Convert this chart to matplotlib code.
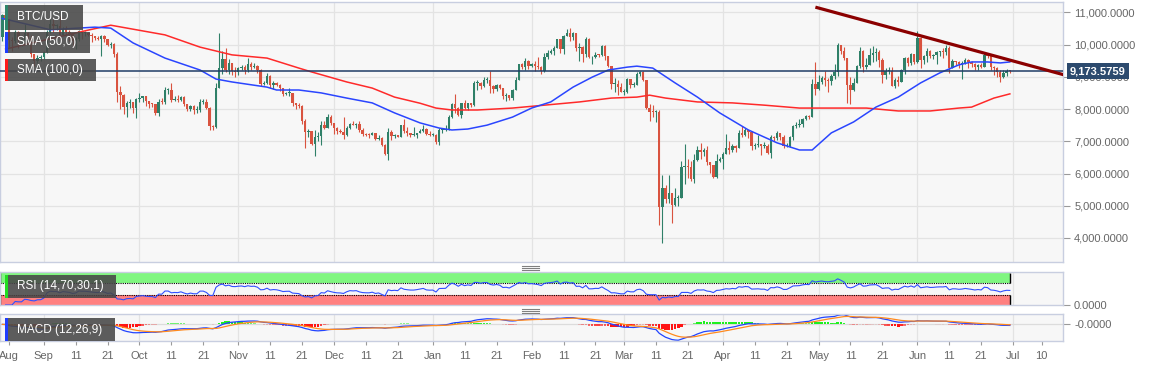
import numpy as np
import pandas as pd
import matplotlib
matplotlib.use('Agg')
import matplotlib.pyplot as plt
import matplotlib.dates as mdates
from matplotlib.colors import to_rgba
from matplotlib.patches import Rectangle
from matplotlib.lines import Line2D
from matplotlib.transforms import blended_transform_factory

plt.rcParams['font.family'] = ['Liberation Sans', 'DejaVu Sans']

W, H = 1153, 367

# daily BTC/USD candles, 2019-08-19 .. 2020-06-30 (open = previous close)
first_open = 10230
close = [
    10920, 10760, 10130, 10110, 10400, 10140, 10140, 10370, 10190, 9720, 9480, 9590, 9600,  # Aug
    9760, 10390, 10630, 10570, 10570, 10310, 10480, 10400, 10320, 10100, 10160, 10410, 10360, 10360, 10300,
    10250, 10190, 10160, 10280, 10170, 9990, 10030, 9700, 8530, 8430, 8060, 8190, 8210, 8040, 8300,  # Sep
    8340, 8390, 8240, 8160, 8150, 7870, 8220, 8210, 8590, 8590, 8270, 8310, 8280, 8370, 8160, 7990,
    8080, 7960, 7960, 8230, 8230, 8030, 7470, 7430, 8660, 9260, 9550, 9220, 9430, 9180, 9150,  # Oct
    9260, 9310, 9200, 9400, 9310, 9340, 9200, 8770, 8810, 9040, 8730, 8800, 8760, 8640, 8460,
    8490, 8500, 8180, 8120, 8080, 7620, 7280, 7320, 6900, 7120, 7160, 7510, 7420, 7740, 7570,  # Nov
    7420, 7320, 7300, 7200, 7400, 7540, 7500, 7530, 7340, 7230, 7200, 7190, 7250, 7070, 7110, 6880,
    6620, 7280, 7150, 7190, 7140, 7520, 7320, 7250, 7200, 7200, 7250, 7320, 7390, 7220, 7190,  # Dec
    7200, 6970, 7340, 7350, 7360, 7760, 8160, 8040, 7820, 8190, 8030, 8180, 8110, 8810, 8820, 8720,
    8900, 8910, 8700, 8630, 8740, 8660, 8390, 8430, 8340, 8600, 8910, 9390, 9290, 9500, 9350,  # Jan
    9390, 9340, 9290, 9180, 9610, 9730, 9800, 9900, 10170, 9860, 10270, 10350, 10240, 10360, 9900,
    9930, 9700, 10180, 9600, 9610, 9690, 9670, 9970, 9650, 9320, 8780, 8790, 8670, 8530,  # Feb
    8530, 8920, 8760, 8760, 9080, 9160, 8900, 8040, 7920, 7910, 7910, 4970, 5560, 5200, 5390, 5010,
    5230, 5230, 6190, 6200, 6190, 5830, 6420, 6740, 6680, 6730, 6370, 6250, 5880, 6390, 6440,  # Mar
    6610, 6800, 6730, 6860, 6790, 7270, 7180, 7340, 7300, 6860, 6880, 6910, 6850, 6850, 6630,
    7120, 7090, 7260, 7130, 6850, 6860, 7130, 7480, 7510, 7540, 7690, 7780, 7760, 8780, 8620,  # Apr
    8830, 8970, 8900, 8880, 9030, 9150, 9990, 9810, 9590, 8760, 8600, 8820, 9320, 9790, 9310, 9380,
    9670, 9730, 9780, 9510, 9060, 9170, 9180, 8720, 8900, 8840, 9200, 9580, 9430, 9700, 9460,  # May
    10200, 9520, 9660, 9800, 9650, 9680, 9760, 9790, 9780, 9880, 9280, 9480, 9470, 9390, 9430,
    9530, 9460, 9390, 9300, 9360, 9300, 9680, 9630, 9300, 9260, 9160, 9000, 9120, 9190, 9173.5759,  # Jun
]
high = [
    10950, 10960, 10780, 10230, 10440, 10420, 10290, 10630, 10380, 10290, 9720, 9680, 9680,
    9800, 10440, 10780, 10800, 10640, 10900, 10540, 10580, 10440, 10370, 10220, 10450, 10440, 10410, 10380,
    10360, 10270, 10260, 10300, 10290, 10180, 10070, 10040, 9780, 8720, 8470, 8250, 8320, 8230, 8340,
    8500, 8400, 8400, 8240, 8180, 8170, 8300, 8340, 8690, 8640, 8800, 8410, 8440, 8400, 8410, 8170,
    8120, 8110, 8080, 8300, 8320, 8300, 8050, 7500, 8800, 10370, 9800, 9900, 9540, 9440, 9300,
    9290, 9380, 9370, 9580, 9460, 9440, 9360, 9230, 8880, 9130, 9070, 8870, 8830, 8780, 8660,
    8530, 8650, 8510, 8200, 8200, 8120, 7700, 7370, 7330, 7360, 7300, 7640, 7620, 7850, 7830,
    7570, 7430, 7390, 7750, 7480, 7570, 7620, 7560, 7640, 7400, 7260, 7260, 7290, 7270, 7180, 7130,
    6930, 7420, 7360, 7220, 7190, 7520, 7690, 7440, 7270, 7430, 7270, 7370, 7520, 7420, 7330,
    7250, 7210, 7400, 7400, 7500, 7800, 8200, 8460, 8050, 8200, 8290, 8190, 8190, 8880, 8900, 8850,
    9000, 9000, 9190, 8730, 8770, 8790, 8660, 8500, 8440, 8610, 8980, 9400, 9420, 9580, 9530,
    9440, 9480, 9600, 9320, 9750, 9840, 9870, 9950, 10180, 10160, 10300, 10470, 10500, 10400, 10370,
    10040, 9960, 10230, 10200, 9650, 9770, 9710, 9990, 9990, 9660, 9320, 8960, 8890, 8800,
    8620, 8960, 8920, 8840, 9140, 9180, 9170, 8900, 8160, 8140, 7960, 7960, 5950, 5640, 5940, 5390,
    5560, 5340, 6380, 6900, 6450, 6400, 6600, 6850, 6960, 6780, 6860, 6370, 6260, 6600, 6520,
    6680, 7230, 7000, 6930, 6890, 7360, 7460, 7420, 7360, 7320, 6940, 7200, 6910, 6970, 6920,
    7180, 7150, 7310, 7260, 7200, 6950, 7150, 7520, 7600, 7700, 7710, 7800, 7800, 8930, 9450,
    9060, 9020, 9190, 8950, 9100, 9390, 10060, 10000, 9920, 9580, 9000, 8970, 9380, 9930, 9840, 9580,
    9880, 9950, 9900, 9830, 9570, 9270, 9310, 9300, 8970, 9010, 9230, 9620, 9600, 9740, 9700,
    10430, 10230, 9690, 9880, 9840, 9720, 9800, 9800, 9890, 9980, 9940, 9560, 9500, 9480, 9480,
    9580, 9560, 9490, 9440, 9390, 9430, 9780, 9690, 9670, 9320, 9290, 9200, 9200, 9230, 9200,
]
low = [
    10100, 10640, 9880, 9800, 10050, 9900, 9950, 10140, 10060, 9610, 9340, 9420, 9480,
    9550, 9750, 10360, 10400, 10460, 10160, 10300, 10300, 10100, 9960, 9860, 10110, 10170, 10260, 10270,
    10080, 10140, 10140, 9640, 10090, 9960, 9900, 9610, 8230, 8000, 7850, 7740, 8020, 7880, 7710,
    8230, 8220, 8100, 8020, 8050, 7800, 7780, 8160, 8160, 8460, 8230, 8260, 8230, 8240, 8090, 7950,
    7930, 7850, 7880, 7900, 8160, 8000, 7350, 7360, 7400, 8650, 9100, 9160, 9100, 9070, 8980,
    9060, 9220, 9100, 9140, 9200, 9270, 9130, 8700, 8760, 8780, 8640, 8620, 8700, 8570, 8400,
    8440, 8400, 8090, 8000, 8040, 7540, 6800, 7120, 6880, 6530, 7010, 6870, 7380, 7410, 7500,
    7230, 7230, 7250, 7080, 7170, 7370, 7490, 7420, 7300, 7170, 7150, 7100, 7200, 7050, 7050, 6850,
    6560, 6430, 7050, 7100, 7120, 7130, 7270, 7160, 7130, 7160, 7100, 7250, 7300, 7190, 7150,
    7170, 6930, 6870, 7270, 7320, 7350, 7720, 7870, 7770, 7720, 8000, 7980, 8060, 8100, 8580, 8610,
    8690, 8810, 8510, 8510, 8560, 8610, 8300, 8250, 8280, 8290, 8580, 8890, 9240, 9220, 9240,
    9310, 9180, 9230, 9100, 9160, 9550, 9700, 9690, 9880, 9730, 9710, 10250, 10100, 10140, 9810,
    9500, 9450, 9620, 9590, 9400, 9570, 9600, 9660, 9520, 9300, 8620, 8530, 8450, 8520,
    8430, 8510, 8660, 8690, 8750, 9010, 8880, 8000, 7640, 7760, 7600, 4410, 3850, 5090, 5100, 4450,
    5000, 5000, 5240, 5670, 5860, 5770, 5700, 6380, 6460, 6530, 6270, 6030, 5870, 5860, 6350,
    6150, 6600, 6620, 6670, 6670, 6780, 7120, 7150, 7110, 6740, 6770, 6810, 6570, 6780, 6610,
    6470, 7000, 7050, 7050, 6780, 6810, 6830, 7040, 7420, 7450, 7450, 7650, 7700, 7740, 8420,
    8600, 8780, 8720, 8530, 8760, 8920, 9020, 9700, 9520, 8200, 8150, 8550, 8800, 9260, 9150, 9240,
    9360, 9450, 9480, 9300, 8800, 8940, 9090, 8710, 8640, 8700, 8830, 9100, 9330, 9370, 9400,
    9420, 9270, 9390, 9470, 9590, 9540, 9400, 9640, 9580, 9690, 9110, 9260, 9380, 9280, 8930,
    9390, 9260, 9300, 9210, 9200, 9280, 9290, 9580, 9200, 9050, 9000, 8850, 8970, 9020, 9120,
]

# moving averages
sma50_dates = ['2019-08-19', '2019-09-03', '2019-09-17', '2019-09-22', '2019-09-29', '2019-10-09',
               '2019-10-20', '2019-10-25', '2019-10-30', '2019-11-10', '2019-11-13', '2019-11-20',
               '2019-11-27', '2019-12-05', '2019-12-13', '2019-12-20', '2019-12-28', '2020-01-03',
               '2020-01-07', '2020-01-12', '2020-01-18', '2020-01-26', '2020-02-01', '2020-02-07',
               '2020-02-14', '2020-02-20', '2020-02-25', '2020-03-02', '2020-03-05', '2020-03-10',
               '2020-03-17', '2020-03-24', '2020-03-31', '2020-04-09', '2020-04-18', '2020-04-25',
               '2020-04-29', '2020-05-05', '2020-05-12', '2020-05-19', '2020-05-26', '2020-06-02',
               '2020-06-08', '2020-06-14', '2020-06-18', '2020-06-23', '2020-06-27', '2020-06-30']
sma50_vals = [10810, 10460, 10540, 10510, 10050, 9580, 9210, 8930, 8840, 8680, 8590, 8590,
              8500, 8340, 8190, 7880, 7570, 7410, 7350, 7380, 7500, 7750, 8030, 8220,
              8680, 8990, 9210, 9300, 9330, 9270, 8810, 8370, 7880, 7350, 6950, 6730,
              6730, 7260, 7600, 8060, 8370, 8810, 9120, 9370, 9460, 9460, 9430, 9460]

sma100_dates = ['2019-08-20', '2019-09-15', '2019-09-22', '2019-10-09', '2019-10-20', '2019-10-30',
                '2019-11-10', '2019-11-20', '2019-11-24', '2019-12-05', '2019-12-13', '2019-12-20',
                '2019-12-28', '2020-01-02', '2020-01-07', '2020-01-15', '2020-01-26', '2020-02-05',
                '2020-02-16', '2020-02-26', '2020-03-05', '2020-03-09', '2020-03-14', '2020-03-24',
                '2020-04-04', '2020-04-14', '2020-04-25', '2020-05-05', '2020-05-16', '2020-05-26',
                '2020-06-05', '2020-06-14', '2020-06-18', '2020-06-25', '2020-06-30']
sma100_vals = [9860, 10450, 10600, 10300, 9920, 9680, 9580, 9270, 9150, 8840, 8650, 8370,
               8180, 8030, 7970, 7970, 8030, 8120, 8220, 8340, 8370, 8430, 8340, 8220,
               8190, 8120, 8030, 8030, 8030, 7940, 7940, 8030, 8060, 8340, 8470]

# descending trendline drawn on the chart
trend_dates = ['2020-04-30', '2020-07-17']
trend_vals = [11160, 9060]

price_ticks = [4000, 5000, 6000, 7000, 8000, 9000, 10000, 11000]

xtick_dates = ['2019-08-21',
               '2019-09-01', '2019-09-11', '2019-09-21', '2019-10-01', '2019-10-11', '2019-10-21',
               '2019-11-01', '2019-11-11', '2019-11-21', '2019-12-01', '2019-12-11', '2019-12-21',
               '2020-01-01', '2020-01-11', '2020-01-21', '2020-02-01', '2020-02-11', '2020-02-21',
               '2020-03-01', '2020-03-11', '2020-03-21', '2020-04-01', '2020-04-11', '2020-04-21',
               '2020-05-01', '2020-05-11', '2020-05-21', '2020-06-01', '2020-06-11', '2020-06-21',
               '2020-07-01', '2020-07-10']
xtick_labels = ['Aug', 'Sep', '11', '21', 'Oct', '11', '21', 'Nov', '11', '21', 'Dec', '11', '21',
                'Jan', '11', '21', 'Feb', '11', '21', 'Mar', '11', '21', 'Apr', '11', '21',
                'May', '11', '21', 'Jun', '11', '21', 'Jul', '10']

# ---- prepare candles
dates = pd.date_range('2019-08-19', periods=len(close), freq='D')
c = np.array(close, dtype=float)
o = np.concatenate([[first_open], c[:-1]])
hi = np.maximum(np.array(high, dtype=float), np.maximum(o, c))
lo = np.minimum(np.array(low, dtype=float), np.minimum(o, c))
xd = mdates.date2num(dates)
up_col, dn_col = '#2f8068', '#d9533f'
cols = np.where(c >= o, up_col, dn_col)
last_price = c[-1]

# ---- indicators
s = pd.Series(c, index=dates)
delta = s.diff()
gain = delta.clip(lower=0).ewm(alpha=1 / 14, adjust=False).mean()
loss = (-delta.clip(upper=0)).ewm(alpha=1 / 14, adjust=False).mean()
rsi = 100 - 100 / (1 + gain / loss)
ema12 = s.ewm(span=12, adjust=False).mean()
ema26 = s.ewm(span=26, adjust=False).mean()
macd = ema12 - ema26
signal = macd.ewm(span=9, adjust=False).mean()
hist = macd - signal

# ---- figure
fig = plt.figure(figsize=(W / 100, H / 100), dpi=100)
fig.patch.set_facecolor('white')


def panel(top, bottom):
    return fig.add_axes([0.0, 1 - bottom / H, 1063 / W, (bottom - top) / H])


ax = panel(2, 262)
ax_rsi = panel(272, 305)
ax_macd = panel(314, 341)

xmin = mdates.date2num(pd.Timestamp('2019-08-18 06:00'))
xmax = mdates.date2num(pd.Timestamp('2020-07-16 16:00'))
month_starts = mdates.date2num(pd.date_range('2019-09-01', '2020-07-01', freq='MS'))

for a in (ax, ax_rsi, ax_macd):
    a.set_facecolor('#f7f7f7')
    for sp in a.spines.values():
        sp.set_color('#c8cee0')
        sp.set_linewidth(1.0)
    a.set_xlim(xmin, xmax)
    for m in month_starts:
        a.axvline(m, color='#e3e3e3', lw=0.9, zorder=0)
    a.yaxis.tick_right()
    a.tick_params(axis='y', right=True, left=False, labelright=True, labelleft=False,
                  length=5, width=0.8, color='#9a9a9a', labelcolor='#666666',
                  labelsize=8, pad=3)
    a.tick_params(axis='x', bottom=False, labelbottom=False)

# main price panel
for v in price_ticks:
    ax.axhline(v, color='#e3e3e3', lw=0.9, zorder=0)
ax.vlines(xd, lo, hi, colors=cols, lw=0.8, zorder=2)
body_lo = np.minimum(o, c)
body_h = np.maximum(np.abs(c - o), 28)
ax.bar(xd, body_h, bottom=body_lo, width=0.74, color=cols, lw=0, zorder=3)
ax.plot(pd.to_datetime(sma100_dates), sma100_vals, color='#ff2a2a', lw=1.1, zorder=4)
ax.plot(pd.to_datetime(sma50_dates), sma50_vals, color='#2a45ff', lw=1.1, zorder=4)
ax.axhline(last_price, color='#1f3c66', lw=1.1, zorder=5)
ax.plot(pd.to_datetime(trend_dates), trend_vals, color='#8b0000', lw=2.3, zorder=6,
        solid_capstyle='butt')
ax.set_ylim(3255, 11320)
ax.set_yticks(price_ticks)
ax.set_yticklabels([f'{v:,.4f}' for v in price_ticks])
ax.set_xlim(xmin, xmax)
tr = blended_transform_factory(ax.transAxes, ax.transData)
ax.text(1.0066, last_price, f'{last_price:,.4f}', transform=tr, color='white',
        fontsize=8, fontweight='bold', va='center', ha='left', zorder=10, clip_on=False,
        bbox=dict(boxstyle='square,pad=0.28', fc='#2c4a6e', ec='none'))

# RSI panel
x0, x1 = xd[0] - 0.6, xd[-1]
ax_rsi.fill_between([x0, x1], 70, 100, color='#80f680', lw=0, zorder=1)
ax_rsi.fill_between([x0, x1], 0, 30, color='#ff8080', lw=0, zorder=1)
ax_rsi.hlines([70, 30], x0, x1, colors='black', linestyles=(0, (1, 1)), lw=0.8, zorder=2)
ax_rsi.vlines([x0, x1], 70, 100, colors='black', lw=1.0, zorder=2)
ax_rsi.vlines([x0, x1], 0, 30, colors='black', lw=1.0, zorder=2)
ax_rsi.plot(dates, rsi, color='#2f4fff', lw=0.8, zorder=3)
ax_rsi.set_ylim(0, 103)
ax_rsi.set_yticks([0])
ax_rsi.set_yticklabels(['0.0000'])
ax_rsi.set_xlim(xmin, xmax)

# MACD panel: histogram fades out where it is small
ax_macd.axhline(0, color='#dcdcdc', lw=0.9, zorder=0)
hv = hist.to_numpy()
fade = np.clip(np.abs(hv) / (0.35 * np.nanmax(np.abs(hv))), 0.06, 1.0)
hcols = [to_rgba('#1ef01e' if v >= 0 else '#ff1414', a) for v, a in zip(hv, fade)]
ax_macd.bar(xd, hv, width=0.8, color=hcols, lw=0, zorder=1)
ax_macd.plot(dates, macd, color='#2244ff', lw=0.9, zorder=2)
ax_macd.plot(dates, signal, color='#ff8a1e', lw=0.9, zorder=3)
lo_m = min(macd.min(), signal.min(), hist.min())
hi_m = max(macd.max(), signal.max(), hist.max())
pad = (hi_m - lo_m) * 0.03
ax_macd.set_ylim(lo_m - pad, hi_m + pad)
ax_macd.set_yticks([0])
ax_macd.set_yticklabels(['-0.0000'])
ax_macd.set_xlim(xmin, xmax)
ax_macd.set_xticks(mdates.date2num(pd.to_datetime(xtick_dates)))
ax_macd.set_xticklabels(xtick_labels)
ax_macd.tick_params(axis='x', bottom=True, labelbottom=True, length=3, width=0.8,
                    color='#9a9a9a', labelcolor='#666666', labelsize=8, pad=4)


# ---- overlay tags (pixel coordinates, top-left origin)
def fig_rect(x0, y0, x1, y1, color, alpha=1.0):
    fig.add_artist(Rectangle((x0 / W, 1 - y1 / H), (x1 - x0) / W, (y1 - y0) / H,
                             transform=fig.transFigure, facecolor=color,
                             edgecolor='none', alpha=alpha, zorder=20))


def tag(text, x0, y0, x1, y1, bar_color):
    fig_rect(x0 + 3, y0, x1, y1, '#474747', 0.88)
    fig_rect(x0, y0, x0 + 3, y1, bar_color)
    fig.text((x0 + 12) / W, 1 - (y0 + y1) / 2 / H, text, color='white', fontsize=8.5,
             va='center', ha='left', zorder=21)


tag('BTC/USD', 5, 5, 83, 30, '#2e846b')
tag('SMA (50,0)', 5, 32, 90, 53, '#1f3dff')
tag('SMA (100,0)', 5, 59, 96, 81, '#ff1a1a')
tag('RSI (14,70,30,1)', 5, 275, 116, 298, '#22dd22')
tag('MACD (12,26,9)', 5, 318, 115, 341, '#1f3dff')

# drag handles between panels
for yy in (265.5, 267.5, 269.5, 308.5, 310.5, 312.5):
    fig.add_artist(Line2D([522 / W, 539 / W], [1 - yy / H, 1 - yy / H],
                          transform=fig.transFigure, color='#808080', lw=0.8))

fig.savefig('out.png', dpi=100, facecolor='white')
